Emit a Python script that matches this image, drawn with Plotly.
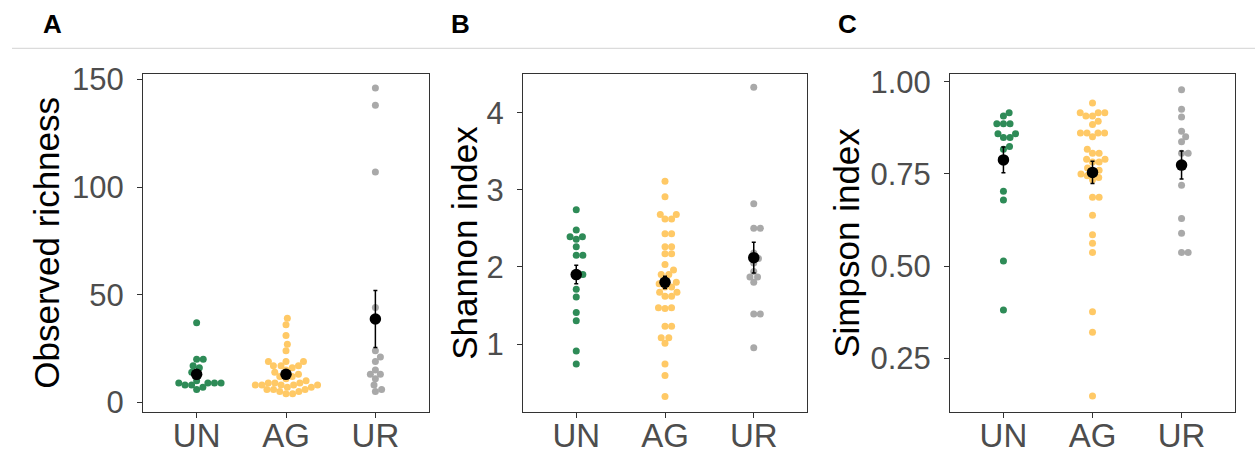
import math
import plotly.graph_objects as go

groups = ["UN", "AG", "UR"]
colors = ["#2E8B57", "#FFC966", "#A9A9A9"]

# Observed richness
rich_UN = [37, 20, 20, 17, 16, 14, 13, 10, 9, 9, 9, 9, 8, 8, 7, 6]
rich_AG = [39, 36, 31, 27, 24, 19, 19, 19, 17, 17, 17, 16, 15, 14, 13, 12, 12, 11,
           10, 9, 9, 9, 8, 8, 8, 8, 8, 7, 7, 6, 6, 6, 5, 5, 4, 4]
rich_UR = [146, 138, 107, 44, 24, 21, 19, 15, 13, 13, 11, 8, 6, 5]
rich_mean = [13.0, 13.0, 38.7]
rich_se = [2.0, 1.5, 13.2]

# Shannon index
shan_UN = [2.74, 2.48, 2.39, 2.39, 2.36, 2.26, 2.15, 2.15, 1.90, 1.90, 1.71, 1.61,
           1.41, 1.30, 0.91, 0.74]
shan_AG = [3.11, 2.91, 2.68, 2.68, 2.62, 2.62, 2.43, 2.43, 2.26, 2.26, 2.17, 2.17,
           2.03, 1.96, 1.90, 1.90, 1.83, 1.80, 1.78, 1.74, 1.74, 1.67, 1.67, 1.62,
           1.62, 1.47, 1.47, 1.46, 1.23, 1.23, 1.08, 1.08, 1.01, 0.74, 0.59, 0.32]
shan_UR = [4.33, 2.82, 2.50, 2.50, 2.18, 2.11, 2.05, 1.94, 1.87, 1.87, 1.80, 1.39,
           1.39, 0.95]
shan_mean = [1.90, 1.80, 2.12]
shan_se = [0.12, 0.08, 0.20]

# Simpson index
simp_UN = [0.916, 0.907, 0.886, 0.886, 0.886, 0.859, 0.859, 0.849, 0.849, 0.824,
           0.817, 0.790, 0.703, 0.679, 0.514, 0.381]
simp_AG = [0.942, 0.916, 0.916, 0.916, 0.907, 0.907, 0.893, 0.884, 0.861, 0.861,
           0.861, 0.861, 0.851, 0.817, 0.806, 0.806, 0.790, 0.790, 0.782, 0.782,
           0.766, 0.760, 0.755, 0.750, 0.745, 0.740, 0.734, 0.687, 0.687, 0.638,
           0.585, 0.562, 0.537, 0.376, 0.321, 0.148]
simp_UR = [0.978, 0.925, 0.904, 0.866, 0.851, 0.837, 0.806, 0.806, 0.772, 0.719,
           0.629, 0.589, 0.537, 0.537]
simp_mean = [0.788, 0.754, 0.774]
simp_se = [0.035, 0.030, 0.038]

titles = ["Observed richness", "Shannon index", "Simpson index"]
letters = ["A", "B", "C"]

W, H = 1255, 456
FONT = "Liberation Sans, Arial, Helvetica, sans-serif"

panels = [
    dict(data=[rich_UN, rich_AG, rich_UR], mean=rich_mean, se=rich_se,
         x0=143, x1=429, yr=[-4.27, 152.5], tv=[0, 50, 100, 150],
         tt=["0", "50", "100", "150"], title_x=47, letter_x=52),
    dict(data=[shan_UN, shan_AG, shan_UR], mean=shan_mean, se=shan_se,
         x0=523, x1=807, yr=[0.1245, 4.502], tv=[1, 2, 3, 4],
         tt=["1", "2", "3", "4"], title_x=465, letter_x=461),
    dict(data=[simp_UN, simp_AG, simp_UR], mean=simp_mean, se=simp_se,
         x0=950, x1=1235, yr=[0.1058, 1.0209], tv=[0.25, 0.5, 0.75, 1.0],
         tt=["0.25", "0.50", "0.75", "1.00"], title_x=847, letter_x=847),
]
Y0, Y1 = 74, 411.5


def swarm(values, ypx, xpx, d=6.6):
    order = sorted(range(len(values)), key=lambda i: values[i])
    placed = []
    offs = [0.0] * len(values)
    for i in order:
        y = values[i] * ypx
        cands = [0.0]
        for px, py in placed:
            dy = abs(y - py)
            if dy < d:
                dx = math.sqrt(d * d - dy * dy)
                cands += [px + dx, px - dx]
        cands.sort(key=lambda c: (round(abs(c), 6), -c))
        chosen = 0.0
        for c in cands:
            if all((c - px) ** 2 + (y - py) ** 2 >= d * d - 1e-6 for px, py in placed):
                chosen = c
                break
        placed.append((chosen, y))
        offs[i] = chosen / xpx
    return offs


fig = go.Figure()
layout = dict(width=W, height=H, margin=dict(l=0, r=0, t=0, b=0, pad=0),
              autosize=False,
              paper_bgcolor="white", plot_bgcolor="white", showlegend=False,
              font=dict(family=FONT))
annotations = []

for k, p in enumerate(panels):
    xa = "xaxis" if k == 0 else f"xaxis{k+1}"
    ya = "yaxis" if k == 0 else f"yaxis{k+1}"
    xref = "x" if k == 0 else f"x{k+1}"
    yref = "y" if k == 0 else f"y{k+1}"
    ypx = (Y1 - Y0) / (p["yr"][1] - p["yr"][0])
    xpx = (p["x1"] - p["x0"]) / 3.2
    for g, vals in enumerate(p["data"]):
        offs = swarm(vals, ypx, xpx)
        fig.add_trace(go.Scatter(
            x=[g + 1 + o for o in offs], y=vals, mode="markers",
            marker=dict(size=7, color=colors[g], line=dict(width=0)),
            xaxis=xref, yaxis=yref, hoverinfo="y"))
    fig.add_trace(go.Scatter(
        x=[1, 2, 3], y=p["mean"], mode="markers",
        marker=dict(size=11.5, color="black"),
        error_y=dict(type="data", array=p["se"], visible=True, color="black",
                     thickness=1.5, width=2),
        xaxis=xref, yaxis=yref))
    layout[xa] = dict(domain=[p["x0"] / W, p["x1"] / W], range=[0.4, 3.6],
                      tickvals=[1, 2, 3], ticktext=groups, showgrid=False,
                      zeroline=False, showline=True, mirror=True,
                      linecolor="#333333", linewidth=1, ticks="outside",
                      ticklen=5, tickcolor="#333333", tickwidth=1,
                      tickfont=dict(size=33, color="#4D4D4D", family=FONT),
                      ticklabelstandoff=-10, automargin=False,
                      anchor=yref, fixedrange=True)
    layout[ya] = dict(domain=[1 - Y1 / H, 1 - Y0 / H], range=p["yr"],
                      tickvals=p["tv"], ticktext=p["tt"], showgrid=False,
                      zeroline=False, showline=True, mirror=True,
                      linecolor="#333333", linewidth=1, ticks="outside",
                      ticklen=5, tickcolor="#333333", tickwidth=1,
                      tickfont=dict(size=31, color="#4D4D4D", family=FONT),
                      ticklabelstandoff=7, automargin=False,
                      anchor=xref, fixedrange=True)
    annotations.append(dict(text=titles[k], x=p["title_x"] / W, y=1 - (Y0 + Y1) / 2 / H,
                            xref="paper", yref="paper", xanchor="center",
                            yanchor="middle", textangle=-90, showarrow=False,
                            font=dict(size=35, color="black", family=FONT)))
    annotations.append(dict(text="<b>" + letters[k] + "</b>", x=p["letter_x"] / W,
                            y=1 - 24.5 / H, xref="paper", yref="paper",
                            xanchor="center", yanchor="middle", showarrow=False,
                            font=dict(size=26, color="black", family=FONT)))

layout["annotations"] = annotations
layout["shapes"] = [dict(type="line", xref="paper", yref="paper", x0=12 / W, x1=1,
                         y0=1 - 48.3 / H, y1=1 - 48.3 / H,
                         line=dict(color="#D3D3D3", width=1))]
fig.update_layout(**layout)
fig.write_html("out.html", config={"displayModeBar": False, "staticPlot": True},
               post_script="document.body.style.margin='0';"
                           "document.body.style.overflow='hidden';")
